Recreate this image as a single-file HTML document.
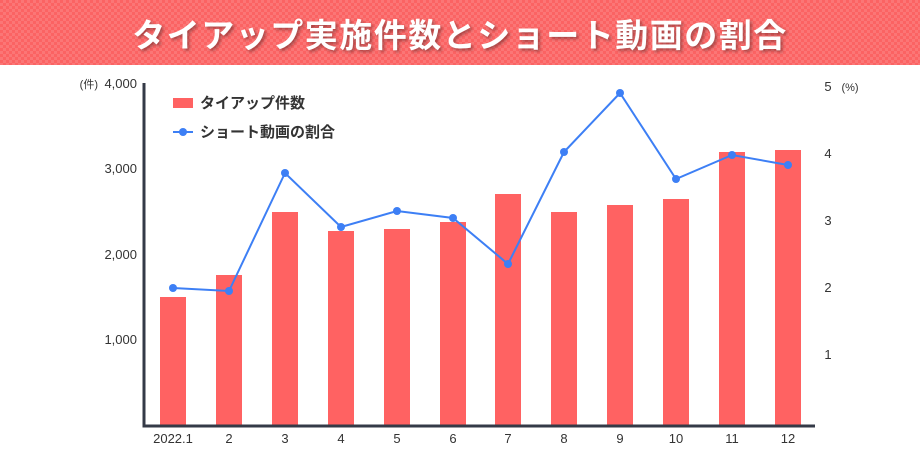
<!DOCTYPE html>
<html><head><meta charset="utf-8"><style>
body{margin:0;width:920px;height:450px;background:#fff;overflow:hidden;font-family:"Liberation Sans","Noto Sans CJK JP",sans-serif}
.hd{position:absolute;left:0;top:0;width:920px;height:65px;background-color:#fb6363;
background-image:linear-gradient(45deg,rgba(255,255,255,.12) 25%,transparent 25%,transparent 75%,rgba(255,255,255,.12) 75%),linear-gradient(45deg,rgba(255,255,255,.12) 25%,transparent 25%,transparent 75%,rgba(255,255,255,.12) 75%);background-size:6px 6px;background-position:0 0,3px 3px}
.hd div{position:absolute;left:0;right:0;top:9px;text-align:center;color:#fff;font-weight:bold;font-size:33px;letter-spacing:1.5px;text-shadow:2px 2px 3px rgba(0,0,0,.35)}
</style></head><body>
<div class="hd"><div>タイアップ実施件数とショート動画の割合</div></div>
<svg width="920" height="450" style="position:absolute;left:0;top:0" font-family="Liberation Sans, Noto Sans CJK JP, sans-serif">
<g fill="#333" font-size="13" text-anchor="end">
<text x="137" y="88">4,000</text><text x="137" y="173">3,000</text><text x="137" y="259">2,000</text><text x="137" y="344">1,000</text>
<text x="98" y="88" font-size="11">(件)</text>
</g>
<g fill="#333" font-size="13" text-anchor="middle">
<text x="828" y="91">5</text><text x="828" y="158">4</text><text x="828" y="225">3</text><text x="828" y="292">2</text><text x="828" y="359">1</text>
<text x="850" y="91" font-size="11">(%)</text>
</g>
<g fill="#ff6262">
<rect x="160" y="297" width="26" height="128"/><rect x="216" y="275" width="26" height="150"/><rect x="272" y="212" width="26" height="213"/><rect x="328" y="231" width="26" height="194"/><rect x="384" y="229" width="26" height="196"/><rect x="440" y="222" width="26" height="203"/><rect x="495" y="194" width="26" height="231"/><rect x="551" y="212" width="26" height="213"/><rect x="607" y="205" width="26" height="220"/><rect x="663" y="199" width="26" height="226"/><rect x="719" y="152" width="26" height="273"/><rect x="775" y="150" width="26" height="275"/>
</g>
<path d="M144 83V426H815" fill="none" stroke="#343a47" stroke-width="3"/>
<polyline fill="none" stroke="#3d7ff5" stroke-width="2" points="173,288 229,291 285,173 341,227 397,211 453,218 508,264 564,152 620,93 676,179 732,155 788,165"/>
<g fill="#3d7ff5"><circle cx="173" cy="288" r="4"/><circle cx="229" cy="291" r="4"/><circle cx="285" cy="173" r="4"/><circle cx="341" cy="227" r="4"/><circle cx="397" cy="211" r="4"/><circle cx="453" cy="218" r="4"/><circle cx="508" cy="264" r="4"/><circle cx="564" cy="152" r="4"/><circle cx="620" cy="93" r="4"/><circle cx="676" cy="179" r="4"/><circle cx="732" cy="155" r="4"/><circle cx="788" cy="165" r="4"/></g>
<g fill="#333" font-size="13" text-anchor="middle">
<text x="173" y="443">2022.1</text><text x="229" y="443">2</text><text x="285" y="443">3</text><text x="341" y="443">4</text><text x="397" y="443">5</text><text x="453" y="443">6</text><text x="508" y="443">7</text><text x="564" y="443">8</text><text x="620" y="443">9</text><text x="676" y="443">10</text><text x="732" y="443">11</text><text x="788" y="443">12</text>
</g>
<rect x="173" y="98" width="20" height="10" fill="#ff6262"/>
<text x="200" y="108" font-size="15" font-weight="bold" fill="#333">タイアップ件数</text>
<line x1="173" y1="132" x2="193" y2="132" stroke="#3d7ff5" stroke-width="2"/><circle cx="183" cy="132" r="4" fill="#3d7ff5"/>
<text x="200" y="137" font-size="15" font-weight="bold" fill="#333">ショート動画の割合</text>
</svg>
</body></html>
